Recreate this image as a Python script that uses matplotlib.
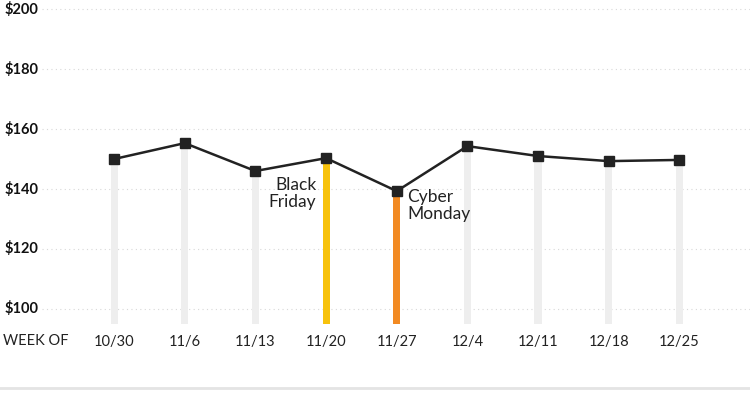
import matplotlib.pyplot as plt
from matplotlib.lines import Line2D

# precos medios por semana
weeks = ['10/30', '11/6', '11/13', '11/20', '11/27', '12/4', '12/11', '12/18', '12/25']
prices = [150.0, 155.3, 146.0, 150.3, 139.3, 154.3, 151.0, 149.3, 149.7]
bar_colors = ['#eeeeee', '#eeeeee', '#eeeeee', '#f7c20c', '#f28a22', '#eeeeee', '#eeeeee', '#eeeeee', '#eeeeee']
y_ticks = [100, 120, 140, 160, 180, 200]
base = 95

plt.rcParams['font.family'] = ['Lato', 'DejaVu Sans']

fig = plt.figure(figsize=(7.5, 3.98), dpi=100)
ax = fig.add_axes([0.056, 0.186, 0.944, 0.801])

x = list(range(len(weeks)))
ax.bar(x, [p - base for p in prices], bottom=base, width=0.1, color=bar_colors, zorder=2)
ax.plot(x, prices, color='#222222', lw=1.8, marker='s', ms=6.5, zorder=3)

ax.set_xlim(-1.02, 9.0)
ax.set_ylim(base, 201.3)
for t in y_ticks:
    ax.axhline(t, color='#d8d8d8', lw=0.8, ls=(0, (1, 3)), zorder=1)
    ax.text(-0.053, t, '$%d' % t, transform=ax.get_yaxis_transform(), ha='left', va='center',
            fontsize=10.5, fontweight='bold', color='#111111')

ax.set_xticks(x)
ax.set_xticklabels(weeks, fontsize=10.5, color='#222222')
ax.tick_params(axis='x', length=0, pad=8)
ax.set_yticks([])
for s in ax.spines.values():
    s.set_visible(False)

fig.text(0.004, 1 - 341 / 398, 'WEEK OF', ha='left', va='center', fontsize=10.5, color='#222222')

ax.text(2.86, 144.0, 'Black\nFriday', ha='right', va='top', fontsize=12.5, color='#222222', linespacing=1.05)
ax.text(4.15, 140.0, 'Cyber\nMonday', ha='left', va='top', fontsize=12.5, color='#222222', linespacing=1.05)

fig.add_artist(Line2D([0, 1], [1 - 388 / 398] * 2, color='#e4e4e4', lw=2.0, transform=fig.transFigure))

plt.savefig('out.png', dpi=100)
